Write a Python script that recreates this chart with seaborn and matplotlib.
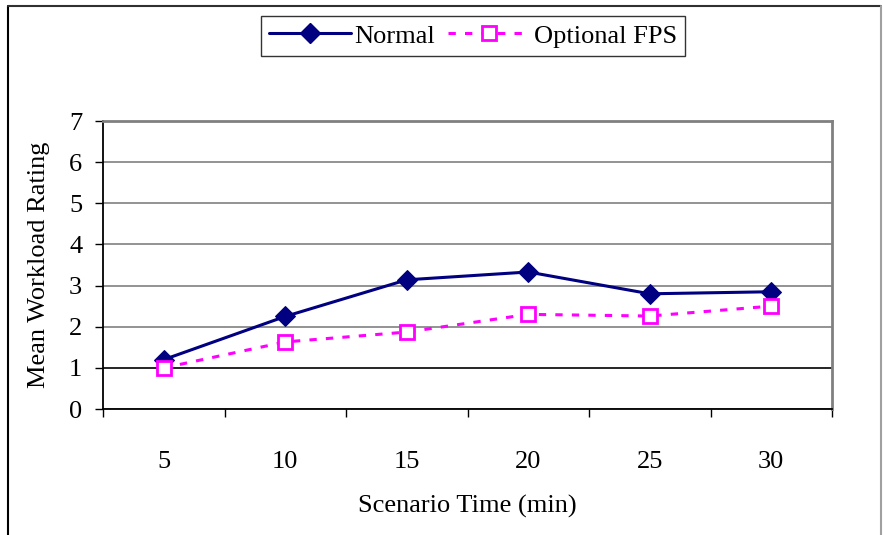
import matplotlib
matplotlib.use("Agg")
import matplotlib.pyplot as plt
from matplotlib.lines import Line2D
import seaborn as sns
import pandas as pd

# Scenario time categories (minutes) and mean workload ratings
times = ["5", "10", "15", "20", "25", "30"]
normal = [1.20, 2.25, 3.14, 3.33, 2.80, 2.85]
optional_fps = [1.00, 1.63, 1.87, 2.30, 2.26, 2.50]

y_ticks = [0, 1, 2, 3, 4, 5, 6, 7]

df = pd.DataFrame({
    "time": times * 2,
    "rating": normal + optional_fps,
    "condition": ["Normal"] * len(times) + ["Optional FPS"] * len(times),
})

sns.set_theme(style="white")
plt.rcParams["font.family"] = ["Liberation Serif", "DejaVu Serif"]
plt.rcParams["text.color"] = "black"
plt.rcParams["axes.labelcolor"] = "black"
plt.rcParams["xtick.color"] = "black"
plt.rcParams["ytick.color"] = "black"
FS = 19

fig = plt.figure(figsize=(8.83, 5.35), dpi=100)
ax = fig.add_axes([103 / 883, 1 - 409 / 535, 729 / 883, 288 / 535])

navy = "#000080"
magenta = "#FF00FF"
dash = (0, (2.4, 3.0))

sns.lineplot(data=df[df.condition == "Normal"], x="time", y="rating", ax=ax,
             color=navy, lw=2.2, marker="D", markersize=10, markeredgecolor=navy,
             markerfacecolor=navy, sort=False, legend=False)
sns.lineplot(data=df[df.condition == "Optional FPS"], x="time", y="rating", ax=ax,
             color=magenta, lw=2.2, marker="s", markersize=10, markeredgewidth=2,
             markeredgecolor=magenta, markerfacecolor="white", dashes=False,
             linestyle=dash, sort=False, legend=False)

ax.set_xlim(-0.5, len(times) - 0.5)
ax.set_ylim(0, 7)
ax.set_yticks(y_ticks)
ax.set_yticklabels([str(v) for v in y_ticks], fontsize=FS)

ax.set_xticks(range(len(times)))
ax.set_xticklabels(times, fontsize=FS)
ax.set_xticks([i - 0.5 for i in range(len(times) + 1)], minor=True)
ax.tick_params(axis="x", which="major", length=0, pad=30, colors="black")
ax.tick_params(axis="x", which="minor", length=6, width=1, direction="out",
               color="black", bottom=True)
ax.tick_params(axis="y", which="major", length=6, width=1, direction="out",
               pad=9, colors="black", left=True)

# Horizontal gridlines
ax.yaxis.grid(True, color="#808080", lw=1.2)
ax.xaxis.grid(False)
for tick_val, gl in zip(ax.get_yticks(), ax.get_ygridlines()):
    if tick_val == 1:
        gl.set_color("black")
ax.set_axisbelow(True)

for side in ("left", "bottom"):
    ax.spines[side].set_color("black")
    ax.spines[side].set_linewidth(1.3)
for side in ("top", "right"):
    ax.spines[side].set_color("#808080")
    ax.spines[side].set_linewidth(2)
    ax.spines[side].set_visible(True)

ax.set_xlabel("Scenario Time (min)", fontsize=FS, color="black")
ax.set_ylabel("Mean Workload Rating", fontsize=FS, color="black")
ax.xaxis.set_label_coords(0.5, -0.30)
ax.yaxis.set_label_coords(-0.073, 0.5)

handles = [
    Line2D([], [], color=navy, lw=2.2, marker="D", markersize=10,
           markerfacecolor=navy, markeredgecolor=navy),
    Line2D([], [], color=magenta, lw=2.2, linestyle=dash, marker="s",
           markersize=10, markeredgewidth=2, markerfacecolor="white",
           markeredgecolor=magenta),
]
leg = fig.legend(handles, ["Normal", "Optional FPS"], loc="center",
                 bbox_to_anchor=(473 / 883, 1 - 36 / 535), ncol=2, fontsize=FS,
                 frameon=True, fancybox=False, handlelength=3.1,
                 handletextpad=0.15, columnspacing=0.5, borderpad=0.3,
                 borderaxespad=0)
leg.get_frame().set_edgecolor("black")
leg.get_frame().set_linewidth(1.0)
for t in leg.get_texts():
    t.set_color("black")

# Outer chart frame
W, H = 883, 535
fig.add_artist(Line2D([8 / W, 8 / W], [0, 1 - 6 / H], transform=fig.transFigure,
                      color="black", lw=1.5))
fig.add_artist(Line2D([8 / W, 881 / W], [1 - 6 / H, 1 - 6 / H],
                      transform=fig.transFigure, color="#303030", lw=1.5))
fig.add_artist(Line2D([881 / W, 881 / W], [0, 1 - 6 / H], transform=fig.transFigure,
                      color="#a0a0a0", lw=1.5))

fig.savefig("out.png", dpi=100)
